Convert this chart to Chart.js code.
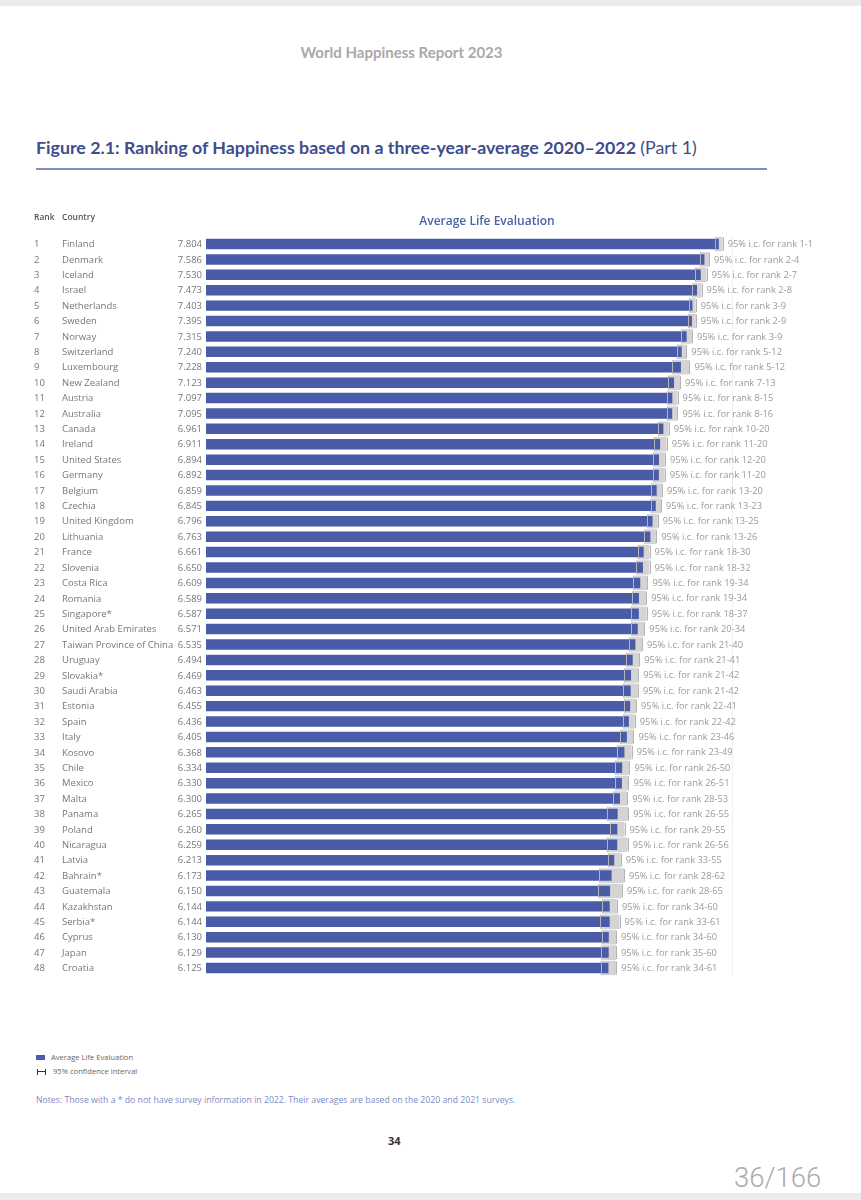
<!DOCTYPE html>
<html>
<head>
<meta charset="utf-8">
<script src="https://cdn.jsdelivr.net/npm/chart.js@4.4.0/dist/chart.umd.min.js"></script>
<style>
  body { margin: 0; width: 861px; height: 1200px; background: #fff; position: relative; overflow: hidden; font-family: "Open Sans", sans-serif; }
  .abs { position: absolute; white-space: nowrap; }
  #topbar { position: absolute; left: 0; top: 0; width: 861px; height: 6px; background: #ececec; }
  #botbar { position: absolute; left: 0; top: 1193px; width: 861px; height: 7px; background: #ececec; }
  #header { left: 0; width: 803px; top: 43px; text-align: center; font-family: "Lato", sans-serif; font-weight: 700; font-size: 15px; color: #a9a9a9; }
  #title { left: 36px; top: 136px; font-family: "Lato", sans-serif; font-weight: 700; font-size: 17.8px; color: #3d4d8e; }
  #title span { font-weight: 400; }
  #rule { position: absolute; left: 36px; top: 168px; width: 731px; height: 2px; background: #7f8dc0; }
  #chartWrap { position: absolute; left: 0; top: 200px; width: 861px; height: 800px; }
  .legend { left: 36px; font-size: 7.6px; color: #666; }
  .sw { display: inline-block; width: 9px; height: 5px; background: #4a5ba8; margin-right: 6px; vertical-align: middle; }
  .ci { display: inline-block; position: relative; width: 7px; height: 6px; margin: 0 7px 0 1px; vertical-align: middle; border-left: 1.5px solid #333; border-right: 1.5px solid #333; }
  .ci:after { content: ""; position: absolute; left: 0; right: 0; top: 2.5px; height: 1px; background: #333; }
  #notes { left: 36px; top: 1094px; font-size: 8.7px; color: #7a8bc2; }
  #pageno { left: 388px; top: 1133px; font-weight: 700; font-size: 11px; color: #333; }
  #pages { left: 734px; top: 1161px; font-family: "Roboto", sans-serif; font-weight: 300; font-size: 27.5px; color: #ababab; }
</style>
</head>
<body>
<div id="topbar"></div>
<div class="abs" id="header">World Happiness Report 2023</div>
<div class="abs" id="title">Figure 2.1: Ranking of Happiness based on a three-year-average 2020–2022 <span>(Part 1)</span></div>
<div id="rule"></div>
<div id="chartWrap"><canvas id="chart" width="861" height="800"></canvas></div>
<div class="abs legend" style="top:1052px"><span class="sw"></span>Average Life Evaluation</div>
<div class="abs legend" style="top:1066px"><span class="ci"></span>95% confidence interval</div>
<div class="abs" id="notes">Notes: Those with a * do not have survey information in 2022. Their averages are based on the 2020 and 2021 surveys.</div>
<div class="abs" id="pageno">34</div>
<div class="abs" id="pages">36/166</div>
<div id="botbar"></div>

<script>
// data
let ranks = [1,2,3,4,5,6,7,8,9,10,11,12,13,14,15,16,17,18,19,20,21,22,23,24,25,26,27,28,29,30,31,32,33,34,35,36,37,38,39,40,41,42,43,44,45,46,47,48];

let countries = ["Finland","Denmark","Iceland","Israel","Netherlands","Sweden","Norway","Switzerland","Luxembourg","New Zealand",
  "Austria","Australia","Canada","Ireland","United States","Germany","Belgium","Czechia","United Kingdom","Lithuania",
  "France","Slovenia","Costa Rica","Romania","Singapore*","United Arab Emirates","Taiwan Province of China","Uruguay","Slovakia*","Saudi Arabia",
  "Estonia","Spain","Italy","Kosovo","Chile","Mexico","Malta","Panama","Poland","Nicaragua",
  "Latvia","Bahrain*","Guatemala","Kazakhstan","Serbia*","Cyprus","Japan","Croatia"];

let scores = [7.804,7.586,7.530,7.473,7.403,7.395,7.315,7.240,7.228,7.123,
  7.097,7.095,6.961,6.911,6.894,6.892,6.859,6.845,6.796,6.763,
  6.661,6.650,6.609,6.589,6.587,6.571,6.535,6.494,6.469,6.463,
  6.455,6.436,6.405,6.368,6.334,6.330,6.300,6.265,6.260,6.259,
  6.213,6.173,6.150,6.144,6.144,6.130,6.129,6.125];

let ciLow = [7.744,7.516,7.440,7.403,7.353,7.335,7.235,7.170,7.098,7.033,
  7.017,7.015,6.881,6.811,6.804,6.802,6.779,6.765,6.716,6.673,
  6.571,6.550,6.499,6.479,6.467,6.471,6.435,6.394,6.359,6.353,
  6.365,6.346,6.305,6.258,6.224,6.230,6.190,6.105,6.150,6.099,
  6.113,5.983,5.970,6.034,5.994,6.020,6.019,6.005];

let ciHigh = [7.864,7.656,7.620,7.543,7.453,7.455,7.395,7.310,7.358,7.213,
  7.177,7.175,7.041,7.011,6.984,6.982,6.939,6.925,6.876,6.853,
  6.751,6.750,6.719,6.699,6.707,6.671,6.635,6.594,6.579,6.573,
  6.545,6.526,6.505,6.478,6.444,6.430,6.410,6.425,6.370,6.419,
  6.313,6.363,6.330,6.254,6.294,6.240,6.239,6.245];

let rankRanges = ["1-1","2-4","2-7","2-8","3-9","2-9","3-9","5-12","5-12","7-13",
  "8-15","8-16","10-20","11-20","12-20","11-20","13-20","13-23","13-25","13-26",
  "18-30","18-32","19-34","19-34","18-37","20-34","21-40","21-41","21-42","21-42",
  "22-41","22-42","23-46","23-49","26-50","26-51","28-53","26-55","29-55","26-56",
  "33-55","28-62","28-65","34-60","33-61","34-60","35-60","34-61"];

let xMin = 0;
let xMax = 8.5;

// left columns, whiskers and interval labels
const tablePlugin = {
  id: "table",
  afterDatasetsDraw(c) {
    let ctx = c.ctx;
    let x = c.scales.x;
    let y = c.scales.y;
    let area = c.chartArea;
    ctx.save();

    // faint panel edge
    ctx.strokeStyle = "#efefef";
    ctx.lineWidth = 1;
    ctx.beginPath();
    ctx.moveTo(732.5, area.top);
    ctx.lineTo(732.5, area.bottom);
    ctx.stroke();

    // whiskers
    ctx.strokeStyle = "#b4b4b4";
    ctx.lineWidth = 1;
    countries.forEach((n, i) => {
      let py = y.getPixelForValue(i);
      [ciLow[i], ciHigh[i]].forEach(v => {
        let px = Math.round(x.getPixelForValue(v)) + 0.5;
        ctx.beginPath();
        ctx.moveTo(px, py - 6.5);
        ctx.lineTo(px, py + 6.5);
        ctx.stroke();
      });
    });

    ctx.textBaseline = "middle";

    // headers
    ctx.fillStyle = "#555";
    ctx.font = "600 8.5px 'Open Sans'";
    ctx.textAlign = "left";
    ctx.fillText("Rank", 34, 18);
    ctx.fillText("Country", 62, 18);

    ctx.fillStyle = "#4a62a8";
    ctx.font = "600 12px 'Open Sans'";
    ctx.textAlign = "center";
    ctx.fillText("Average Life Evaluation", 487, 22);

    countries.forEach((n, i) => {
      let py = y.getPixelForValue(i) + 0.5;
      ctx.fillStyle = "#777";
      ctx.font = "9.5px 'Open Sans'";
      ctx.textAlign = "left";
      ctx.fillText(String(ranks[i]), 34, py);
      ctx.fillText(n, 62, py);
      ctx.textAlign = "right";
      ctx.fillText(scores[i].toFixed(3), 202, py);

      ctx.fillStyle = "#9a9a9a";
      ctx.textAlign = "left";
      ctx.font = "9.3px 'Open Sans'";
      ctx.fillText("95% i.c. for rank " + rankRanges[i], x.getPixelForValue(ciHigh[i]) + 5, py);
    });
    ctx.restore();
  }
};

let chart = new Chart(document.getElementById("chart"), {
  type: "bar",
  data: {
    labels: countries,
    datasets: [
      {
        label: "Average Life Evaluation",
        data: scores,
        backgroundColor: "#4a5ba8",
        barPercentage: 0.68,
        categoryPercentage: 1,
        grouped: false,
        order: 0
      },
      {
        label: "95% confidence interval",
        data: ciLow.map((l, i) => [l, ciHigh[i]]),
        backgroundColor: "#d4d4d4",
        barPercentage: 0.95,
        categoryPercentage: 1,
        grouped: false,
        order: 1
      }
    ]
  },
  options: {
    indexAxis: "y",
    responsive: false,
    animation: false,
    layout: { padding: { left: 206, right: 96.5, top: 36.3, bottom: 24.3 } },
    scales: {
      x: { min: xMin, max: xMax, display: false },
      y: { display: false, offset: true }
    },
    plugins: {
      legend: { display: false },
      tooltip: { enabled: false }
    }
  },
  plugins: [tablePlugin]
});
</script>
</body>
</html>
